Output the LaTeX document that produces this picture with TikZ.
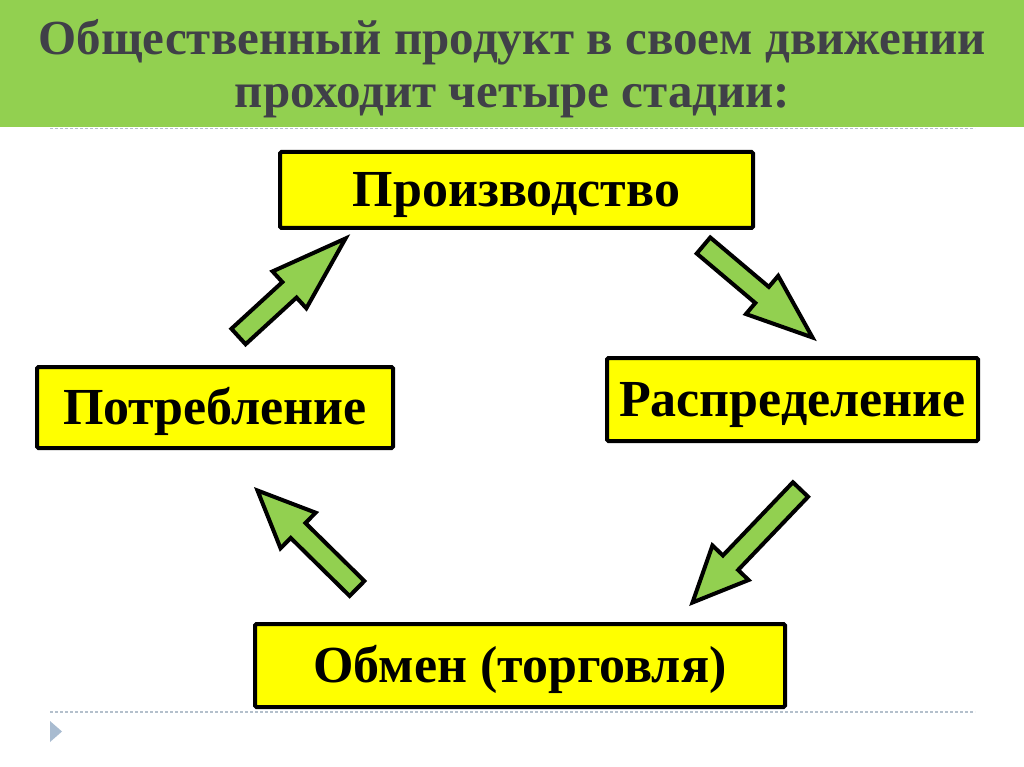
\documentclass[tikz,border=0pt]{standalone}
\usepackage{fontspec}
\setmainfont{Liberation Serif}
\usetikzlibrary{calc}
\definecolor{bargreen}{HTML}{92D050}
\definecolor{arrgreen}{HTML}{92D050}
\definecolor{titlegray}{HTML}{404048}
\definecolor{boxyellow}{HTML}{FFFF00}
\definecolor{dashgray}{HTML}{B4C0CC}
\definecolor{tribl}{HTML}{A8BBD0}
\newcommand\arrsw{10.5pt}
\newcommand\arrhw{25pt}
\newcommand\blockarrow[3]{%
  \coordinate (hb) at ($(#2)!#3!(#1)$);
  \draw[arrowbody] ($(#1)!\arrsw!90:(#2)$) -- ($(hb)!\arrsw!90:(#2)$) -- ($(hb)!\arrhw!90:(#2)$) -- (#2)
    -- ($(hb)!\arrhw!-90:(#2)$) -- ($(hb)!\arrsw!-90:(#2)$) -- ($(#1)!\arrsw!-90:(#2)$) -- cycle;}
\begin{document}
\begin{tikzpicture}[x=1pt,y=-1pt,
  stagebox/.style={draw=black, line width=4pt, fill=boxyellow, rounded corners=1.5pt,
    font=\fontsize{52}{58}\selectfont\bfseries, text height=34pt, text depth=0pt,
    inner sep=0pt, outer sep=0pt},
  titletext/.style={font=\fontsize{49}{55}\selectfont\bfseries, text=titlegray, anchor=base, inner sep=0pt},
  arrowbody/.style={draw=black, line width=4pt, fill=arrgreen, line join=miter},
  sepline/.style={dashgray, line width=1.6pt, dash pattern=on 3pt off 2pt}]
\useasboundingbox (0,0) rectangle (1024,767);
\fill[white] (0,0) rectangle (1024,767);
\fill[bargreen] (0,0) rectangle (1024,127);
\node[titletext] (title1) at (512.5,55) {Общественный продукт в своем движении};
\node[titletext] (title2) at (512.5,108) {проходит четыре стадии:};
\draw[sepline] (50,128.5) -- (975,128.5);
\draw[sepline] (50,712) -- (975,712);
\fill[tribl] (50,721) -- (62,731.5) -- (50,742) -- cycle;

\node[stagebox, minimum width=473pt, minimum height=76pt] (prod) at (516.5,190) {Производство};
\node[stagebox, minimum width=371pt, minimum height=83pt] (dist) at (792.5,399.5) {Распределение};
\node[stagebox, minimum width=356pt, minimum height=81pt] (cons) at (215,407.5) {Потребление};
\node[stagebox, minimum width=530pt, minimum height=83pt] (exch) at (520,665.5) {Обмен (торговля)};

\coordinate (a1s) at (238.5,336.5);
\coordinate (a1e) at (345.5,238.5);
\coordinate (a2s) at (703.5,245.5);
\coordinate (a2e) at (812.5,337.5);
\coordinate (a3s) at (800.5,489.5);
\coordinate (a3e) at (692.5,602.5);
\coordinate (a4s) at (357,588.5);
\coordinate (a4e) at (257.5,490.5);
\blockarrow{a1s}{a1e}{76pt}
\blockarrow{a2s}{a2e}{66pt}
\blockarrow{a3s}{a3e}{55pt}
\blockarrow{a4s}{a4e}{57pt}
\end{tikzpicture}
\end{document}
